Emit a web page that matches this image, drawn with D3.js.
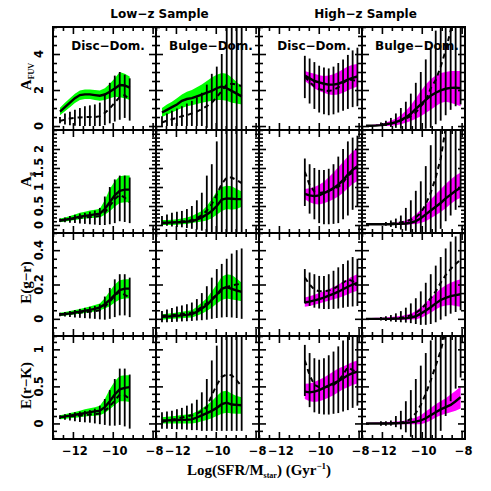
<!DOCTYPE html>
<html>
<head>
<meta charset="utf-8">
<script src="https://cdn.jsdelivr.net/npm/d3@7"></script>
<style>
body { margin: 0; background: #fff; }
text { font-family: "DejaVu Sans", sans-serif; font-weight: bold; fill: #000; }
.serif { font-family: "Liberation Serif", serif; }
</style>
</head>
<body>
<svg id="chart" width="491" height="491"></svg>
<script>
// ---- x grids (log sSFR bin centres) ----
const xLD  = [-12.65,-12.4,-12.15,-11.9,-11.65,-11.4,-11.15,-10.9,-10.65,-10.4,-10.15,-9.9,-9.65,-9.4,-9.15]
const xLB  = [-12.7,-12.45,-12.2,-11.95,-11.7,-11.45,-11.2,-10.95,-10.7,-10.45,-10.2,-9.95,-9.7,-9.45,-9.2,-8.95,-8.7]
const xHD  = [-10.7,-10.46,-10.22,-9.98,-9.74,-9.5,-9.26,-9.02,-8.78,-8.54,-8.3,-8.06]
const xHB  = [-12.8,-12.55,-12.3,-12.05,-11.8,-11.55,-11.3,-11.05,-10.8,-10.55,-10.3,-10.05,-9.8,-9.55,-9.3,-9.05,-8.8,-8.55,-8.3,-8.05]
const xHBd = [-12.05,-11.8,-11.55,-11.3,-11.05,-10.8,-10.55,-10.3,-10.05,-9.8,-9.55,-9.3,-9.05,-8.8,-8.55,-8.3,-8.05]

// ---- A_FUV ----
const afuvLD_med  = [0.8,1.05,1.3,1.55,1.72,1.76,1.76,1.72,1.68,1.75,1.9,2.08,2.28,2.25,2.13]
const afuvLD_lo   = [0.6,0.82,1.05,1.28,1.45,1.5,1.5,1.45,1.4,1.45,1.55,1.62,1.6,1.55,1.45]
const afuvLD_hi   = [1.02,1.3,1.55,1.8,1.97,2.03,2.03,2.0,1.97,2.1,2.35,2.65,3.0,2.9,2.75]
const afuvLD_dash = [0.28,0.36,0.42,0.46,0.48,0.5,0.5,0.5,0.55,0.72,0.98,1.3,1.62,1.72,1.45]
const afuvLD_elo  = [0.15,0.08,0.05,0.02,0,0,0,0,0,0.05,0.15,0.25,0.35,0.45,0.3]
const afuvLD_ehi  = [0.5,0.7,0.8,0.9,1.0,1.1,1.15,1.2,1.3,1.8,2.4,2.8,3.0,2.85,2.65]

const afuvLB_med  = [0.75,0.9,1.05,1.2,1.4,1.5,1.55,1.65,1.75,1.85,1.95,2.1,2.2,2.1,1.95,1.8,1.65]
const afuvLB_lo   = [0.5,0.62,0.75,0.88,1.0,1.1,1.15,1.22,1.3,1.35,1.4,1.45,1.45,1.4,1.3,1.25,1.2]
const afuvLB_hi   = [1.0,1.2,1.35,1.55,1.75,1.9,2.0,2.15,2.3,2.5,2.7,2.85,2.95,2.9,2.7,2.45,2.2]
const afuvLB_dash = [0.2,0.3,0.38,0.45,0.55,0.6,0.7,0.8,0.95,1.1,1.3,1.6,1.95,2.3,2.35,2.3,2.22]
const afuvLB_elo  = [0,0,0,0,0,0,0,0,0,-0.1,-0.2,-0.2,-0.2,-0.2,-0.2,-0.2,-0.2]
const afuvLB_ehi  = [0.55,0.7,0.85,0.98,1.1,1.25,1.4,1.6,1.85,2.3,2.9,3.3,4.0,6,6,6,6]

const afuvHD_med  = [2.8,2.65,2.5,2.42,2.35,2.3,2.3,2.35,2.45,2.58,2.68,2.75]
const afuvHD_lo   = [2.5,2.3,2.1,1.95,1.85,1.75,1.72,1.75,1.85,1.98,2.1,2.2]
const afuvHD_hi   = [3.05,2.98,2.9,2.82,2.78,2.8,2.88,3.0,3.15,3.3,3.4,3.45]
const afuvHD_dash = [2.75,2.45,2.2,2.05,1.98,1.95,2.0,2.15,2.4,2.58,2.55,2.5]
const afuvHD_elo  = [1.55,1.25,0.95,0.75,0.65,0.6,0.65,0.75,0.85,0.95,1.05,1.1]
const afuvHD_ehi  = [3.9,3.75,3.55,3.35,3.25,3.2,3.3,3.5,3.7,3.95,4.2,4.35]

const afuvHB_med  = [0.02,0.02,0.03,0.05,0.1,0.15,0.22,0.33,0.48,0.68,0.95,1.2,1.45,1.68,1.85,1.98,2.07,2.12,2.13,2.1]
const afuvHB_lo   = [0,0,0,0,0,0.02,0.05,0.1,0.18,0.28,0.4,0.55,0.72,0.9,1.1,1.28,1.35,1.3,1.2,1.1]
const afuvHB_hi   = [0.05,0.06,0.08,0.12,0.2,0.3,0.42,0.6,0.85,1.15,1.55,1.95,2.3,2.6,2.8,2.95,3.0,3.05,3.05,3.05]
const afuvHB_dash = [0.05,0.08,0.12,0.2,0.3,0.42,0.55,0.75,1.1,1.4,2.1,2.55,3.3,4.2,5.3,6.5,7.5]
const afuvHB_elo  = [0,0,-0.05,-0.1,-0.15,-0.2,-0.2,-0.2,-0.2,-0.15,-0.1,0.1,0.3,0.6,0.9,1.1,1.2]
const afuvHB_ehi  = [0.2,0.3,0.45,0.7,1.0,1.35,1.8,2.4,3.0,3.7,4.3,5.3,7,7,7,7,7]

// ---- A_g ----
const agLD_med  = [0.12,0.14,0.16,0.19,0.22,0.24,0.26,0.28,0.3,0.42,0.6,0.78,0.9,0.93,0.93]
const agLD_lo   = [0.07,0.09,0.11,0.13,0.15,0.17,0.18,0.19,0.2,0.27,0.36,0.48,0.58,0.6,0.6]
const agLD_hi   = [0.17,0.2,0.24,0.28,0.32,0.35,0.38,0.4,0.43,0.65,0.95,1.15,1.28,1.3,1.3]
const agLD_dash = [0.12,0.13,0.15,0.17,0.19,0.2,0.21,0.22,0.24,0.33,0.5,0.68,0.8,0.72,0.6]
const agLD_elo  = [0.08,0.07,0.06,0.05,0.04,0.03,0.02,0.01,0,0,0.02,0.05,0.1,0.08,0.05]
const agLD_ehi  = [0.17,0.2,0.24,0.27,0.3,0.32,0.35,0.38,0.45,0.75,1.0,1.2,1.3,1.3,1.25]

const agLB_med  = [0.06,0.06,0.07,0.07,0.08,0.09,0.1,0.14,0.2,0.28,0.37,0.5,0.67,0.7,0.69,0.68,0.68]
const agLB_lo   = [0,0,0,0.01,0.02,0.03,0.05,0.07,0.09,0.12,0.18,0.27,0.37,0.42,0.4,0.42,0.48]
const agLB_hi   = [0.13,0.13,0.14,0.15,0.17,0.2,0.24,0.3,0.37,0.5,0.68,0.88,1.0,1.03,1.02,0.95,0.88]
const agLB_dash = [0.04,0.05,0.06,0.08,0.09,0.1,0.13,0.18,0.26,0.38,0.55,0.8,1.08,1.25,1.25,1.18,1.1]
const agLB_elo  = [0,-0.02,-0.04,-0.05,-0.06,-0.08,-0.1,-0.12,-0.15,-0.2,-0.2,-0.2,-0.2,-0.2,-0.2,-0.2,-0.2]
const agLB_ehi  = [0.24,0.28,0.32,0.35,0.37,0.42,0.5,0.65,0.85,1.3,1.6,2.2,3,3,3,3,3]

const agHD_med  = [0.82,0.78,0.76,0.78,0.84,0.9,0.97,1.06,1.18,1.33,1.45,1.55]
const agHD_lo   = [0.68,0.6,0.55,0.54,0.57,0.62,0.68,0.75,0.85,0.97,1.08,1.16]
const agHD_hi   = [0.95,0.97,1.0,1.06,1.14,1.26,1.38,1.52,1.66,1.8,1.93,2.03]
const agHD_dash = [1.4,1.05,0.88,0.84,0.86,0.9,0.95,1.0,1.12,1.3,1.38,1.38]
const agHD_elo  = [0.5,0.3,0.15,0.05,0.02,0.02,0.03,0.05,0.15,0.25,0.4,0.5]
const agHD_ehi  = [1.75,1.6,1.5,1.45,1.45,1.48,1.6,1.8,2.0,2.2,2.3,2.35]

const agHB_med  = [0.02,0.02,0.02,0.02,0.02,0.02,0.03,0.03,0.04,0.06,0.1,0.18,0.28,0.38,0.48,0.58,0.7,0.8,0.9,0.98]
const agHB_lo   = [0,0,0,0,0,0,0,0,0.01,0.02,0.03,0.05,0.1,0.18,0.26,0.34,0.44,0.55,0.65,0.72]
const agHB_hi   = [0.04,0.04,0.04,0.04,0.05,0.05,0.06,0.08,0.12,0.18,0.28,0.4,0.53,0.67,0.81,0.94,1.08,1.2,1.3,1.38]
const agHB_dash = [0.02,0.03,0.04,0.05,0.07,0.1,0.14,0.2,0.32,0.55,0.85,1.25,1.75,2.55,3,3.5,4]
const agHB_elo  = [0,-0.02,-0.05,-0.08,-0.12,-0.15,-0.2,-0.25,-0.3,-0.3,-0.3,-0.3,-0.1,0.1,0.25,0.4,0.5]
const agHB_ehi  = [0.05,0.08,0.12,0.17,0.25,0.45,0.65,0.9,1.15,1.55,2.1,3,3,3,3,3,3]

// ---- E(g-r) ----
const egrLD_med  = [0.025,0.028,0.032,0.037,0.042,0.047,0.052,0.058,0.066,0.085,0.11,0.14,0.168,0.176,0.176]
const egrLD_lo   = [0.017,0.02,0.023,0.027,0.03,0.034,0.038,0.043,0.05,0.06,0.074,0.095,0.112,0.118,0.12]
const egrLD_hi   = [0.035,0.04,0.045,0.052,0.058,0.065,0.072,0.08,0.09,0.12,0.16,0.2,0.225,0.23,0.23]
const egrLD_dash = [0.025,0.027,0.03,0.033,0.036,0.039,0.042,0.045,0.05,0.07,0.1,0.135,0.16,0.14,0.125]
const egrLD_elo  = [0.015,0.013,0.01,0.008,0.006,0.004,0.002,0,-0.003,-0.005,0,0.01,0.02,0.02,0.01]
const egrLD_ehi  = [0.035,0.04,0.046,0.052,0.058,0.064,0.07,0.075,0.085,0.13,0.18,0.23,0.26,0.26,0.24]

const egrLB_med  = [0.012,0.013,0.015,0.017,0.02,0.023,0.027,0.04,0.06,0.08,0.11,0.14,0.175,0.185,0.175,0.165,0.157]
const egrLB_lo   = [-0.005,-0.003,0,0.002,0.004,0.006,0.008,0.018,0.03,0.045,0.065,0.09,0.11,0.118,0.112,0.108,0.102]
const egrLB_hi   = [0.027,0.03,0.033,0.037,0.041,0.045,0.05,0.07,0.095,0.12,0.16,0.2,0.245,0.26,0.255,0.235,0.21]
const egrLB_dash = [0.018,0.02,0.022,0.025,0.028,0.031,0.035,0.05,0.07,0.09,0.115,0.14,0.165,0.185,0.195,0.2,0.205]
const egrLB_elo  = [-0.02,-0.02,-0.018,-0.017,-0.015,-0.014,-0.012,-0.01,-0.008,-0.005,0,0.005,0.008,0.01,0.008,0.005,0]
const egrLB_ehi  = [0.045,0.055,0.063,0.072,0.078,0.085,0.095,0.115,0.15,0.19,0.24,0.29,0.32,0.35,0.38,0.4,0.41]

const egrHD_med  = [0.095,0.1,0.107,0.115,0.124,0.135,0.146,0.158,0.172,0.187,0.2,0.21]
const egrHD_lo   = [0.07,0.075,0.082,0.09,0.098,0.106,0.114,0.122,0.132,0.143,0.155,0.163]
const egrHD_hi   = [0.125,0.132,0.14,0.15,0.16,0.172,0.186,0.2,0.215,0.232,0.248,0.26]
const egrHD_dash = [0.24,0.2,0.17,0.16,0.16,0.165,0.175,0.19,0.21,0.23,0.22,0.2]
const egrHD_elo  = [0.09,0.075,0.065,0.06,0.058,0.057,0.058,0.06,0.065,0.07,0.072,0.075]
const egrHD_ehi  = [0.29,0.27,0.26,0.25,0.25,0.26,0.28,0.3,0.32,0.34,0.36,0.35]

const egrHB_med  = [0,0,0,0,0,0,0.001,0.002,0.004,0.007,0.015,0.03,0.048,0.068,0.09,0.11,0.122,0.132,0.138,0.143]
const egrHB_lo   = [-0.003,-0.003,-0.004,-0.004,-0.005,-0.005,-0.005,-0.005,-0.005,-0.004,-0.002,0.005,0.02,0.035,0.055,0.07,0.078,0.08,0.075,0.07]
const egrHB_hi   = [0.005,0.005,0.006,0.007,0.008,0.01,0.013,0.017,0.022,0.03,0.045,0.068,0.095,0.12,0.15,0.175,0.195,0.21,0.222,0.23]
const egrHB_dash = [0,0,0.001,0.003,0.006,0.012,0.02,0.035,0.055,0.085,0.12,0.16,0.21,0.255,0.29,0.32,0.345]
const egrHB_elo  = [-0.01,-0.012,-0.015,-0.018,-0.02,-0.022,-0.025,-0.03,-0.035,-0.035,-0.03,-0.02,-0.005,0.015,0.03,0.04,0.05]
const egrHB_ehi  = [0.01,0.015,0.022,0.032,0.045,0.065,0.09,0.12,0.16,0.21,0.26,0.31,0.36,0.41,0.45,0.48,0.52]

// ---- E(r-K) ----
const erkLD_med  = [0.085,0.095,0.105,0.117,0.128,0.14,0.152,0.163,0.173,0.22,0.3,0.39,0.46,0.48,0.49]
const erkLD_lo   = [0.055,0.063,0.07,0.078,0.085,0.092,0.099,0.105,0.11,0.14,0.19,0.25,0.3,0.3,0.29]
const erkLD_hi   = [0.11,0.125,0.14,0.155,0.172,0.19,0.205,0.22,0.24,0.33,0.46,0.57,0.64,0.65,0.65]
const erkLD_dash = [0.085,0.09,0.096,0.102,0.108,0.114,0.12,0.126,0.133,0.17,0.23,0.31,0.39,0.38,0.33]
const erkLD_elo  = [0.06,0.05,0.04,0.03,0.02,0.015,0.01,0,-0.01,-0.02,-0.03,-0.03,-0.02,-0.04,-0.07]
const erkLD_ehi  = [0.11,0.125,0.14,0.15,0.16,0.17,0.18,0.2,0.24,0.33,0.45,0.6,0.74,0.74,0.66]

const erkLB_med  = [0.04,0.042,0.044,0.046,0.048,0.05,0.054,0.08,0.11,0.14,0.17,0.21,0.26,0.28,0.255,0.25,0.245]
const erkLB_lo   = [0,0,0,0,0,0,0,0.01,0.03,0.045,0.07,0.1,0.13,0.145,0.135,0.13,0.13]
const erkLB_hi   = [0.085,0.09,0.097,0.105,0.113,0.122,0.13,0.16,0.2,0.25,0.3,0.37,0.43,0.44,0.4,0.37,0.355]
const erkLB_dash = [0.02,0.035,0.05,0.065,0.08,0.095,0.11,0.13,0.17,0.22,0.38,0.52,0.63,0.66,0.65,0.58,0.5]
const erkLB_elo  = [-0.07,-0.07,-0.075,-0.08,-0.08,-0.085,-0.09,-0.09,-0.1,-0.1,-0.1,-0.1,-0.1,-0.1,-0.1,-0.1,-0.1]
const erkLB_ehi  = [0.15,0.16,0.17,0.19,0.21,0.24,0.27,0.32,0.42,0.6,0.85,1.05,1.3,1.3,1.3,1.3,1.3]

const erkHD_med  = [0.43,0.42,0.43,0.45,0.48,0.51,0.54,0.57,0.61,0.65,0.68,0.7]
const erkHD_lo   = [0.33,0.3,0.29,0.3,0.32,0.35,0.38,0.42,0.46,0.49,0.52,0.54]
const erkHD_hi   = [0.535,0.54,0.56,0.59,0.62,0.66,0.7,0.74,0.77,0.8,0.83,0.85]
const erkHD_dash = [0.85,0.65,0.52,0.49,0.49,0.5,0.52,0.57,0.66,0.76,0.72,0.69]
const erkHD_elo  = [0.37,0.22,0.15,0.13,0.12,0.12,0.13,0.14,0.16,0.18,0.21,0.24]
const erkHD_ehi  = [1.06,0.95,0.88,0.86,0.88,0.92,0.97,1.04,1.12,1.2,1.25,1.25]

const erkHB_med  = [0,0,0,0,0,0,0.002,0.005,0.01,0.015,0.025,0.04,0.07,0.11,0.15,0.19,0.22,0.25,0.3,0.355]
const erkHB_lo   = [-0.005,-0.005,-0.005,-0.006,-0.007,-0.008,-0.01,-0.01,-0.01,-0.01,-0.01,-0.01,0.01,0.04,0.08,0.11,0.13,0.15,0.17,0.2]
const erkHB_hi   = [0.01,0.01,0.012,0.014,0.016,0.02,0.025,0.03,0.04,0.055,0.08,0.11,0.16,0.21,0.26,0.3,0.34,0.39,0.44,0.5]
const erkHB_dash = [0,0,0.002,0.005,0.01,0.025,0.06,0.14,0.25,0.4,0.58,0.78,0.98,1.25,1.6,1.9,2.2]
const erkHB_elo  = [-0.03,-0.03,-0.03,-0.05,-0.08,-0.12,-0.18,-0.25,-0.25,-0.25,-0.25,-0.2,-0.1,0.1,0.3,0.47,0.62]
const erkHB_ehi  = [0.03,0.03,0.04,0.1,0.17,0.3,0.45,0.6,0.78,0.95,1.12,1.5,1.5,1.5,1.5,1.5,1.5]

// ---- axes / labels ----
const xTicks = [-12, -10, -8]
const afuvTicks = [0, 2, 4]
const agTicks = [0, 0.5, 1, 1.5, 2]
const egrTicks = [0, 0.2, 0.4]
const erkTicks = [0, 0.5, 1]
const sampleTitles = ['Low\u2212z Sample', 'High\u2212z Sample']
const morphTitles = ['Disc\u2212Dom.', 'Bulge\u2212Dom.', 'Disc\u2212Dom.', 'Bulge\u2212Dom.']

const green = '#00ff00', magenta = '#ff00ff'
const L = 53, T = 27, PW = 103, PH = 103
const xDomain = [-13, -7.83]

const rowsCfg = [
    {domain: [-0.22, 5.5], major: afuvTicks, minor: 0.5, name: ['A', 'FUV']},
    {domain: [-0.21, 2.5], major: agTicks, minor: 0.1, name: ['A', 'g']},
    {domain: [-0.1, 0.5], major: egrTicks, minor: 0.05, name: ['E(g\u2212r)']},
    {domain: [-0.21, 1.18], major: erkTicks, minor: 0.1, name: ['E(r\u2212K)']}
]
const fills = [green, green, magenta, magenta]

function P(x, med, lo, hi, xd, dash, elo, ehi) {
    return {x, med, lo, hi, xd, dash, elo, ehi}
}
const panels = [
    [P(xLD, afuvLD_med, afuvLD_lo, afuvLD_hi, xLD, afuvLD_dash, afuvLD_elo, afuvLD_ehi),
     P(xLB, afuvLB_med, afuvLB_lo, afuvLB_hi, xLB, afuvLB_dash, afuvLB_elo, afuvLB_ehi),
     P(xHD, afuvHD_med, afuvHD_lo, afuvHD_hi, xHD, afuvHD_dash, afuvHD_elo, afuvHD_ehi),
     P(xHB, afuvHB_med, afuvHB_lo, afuvHB_hi, xHBd, afuvHB_dash, afuvHB_elo, afuvHB_ehi)],
    [P(xLD, agLD_med, agLD_lo, agLD_hi, xLD, agLD_dash, agLD_elo, agLD_ehi),
     P(xLB, agLB_med, agLB_lo, agLB_hi, xLB, agLB_dash, agLB_elo, agLB_ehi),
     P(xHD, agHD_med, agHD_lo, agHD_hi, xHD, agHD_dash, agHD_elo, agHD_ehi),
     P(xHB, agHB_med, agHB_lo, agHB_hi, xHBd, agHB_dash, agHB_elo, agHB_ehi)],
    [P(xLD, egrLD_med, egrLD_lo, egrLD_hi, xLD, egrLD_dash, egrLD_elo, egrLD_ehi),
     P(xLB, egrLB_med, egrLB_lo, egrLB_hi, xLB, egrLB_dash, egrLB_elo, egrLB_ehi),
     P(xHD, egrHD_med, egrHD_lo, egrHD_hi, xHD, egrHD_dash, egrHD_elo, egrHD_ehi),
     P(xHB, egrHB_med, egrHB_lo, egrHB_hi, xHBd, egrHB_dash, egrHB_elo, egrHB_ehi)],
    [P(xLD, erkLD_med, erkLD_lo, erkLD_hi, xLD, erkLD_dash, erkLD_elo, erkLD_ehi),
     P(xLB, erkLB_med, erkLB_lo, erkLB_hi, xLB, erkLB_dash, erkLB_elo, erkLB_ehi),
     P(xHD, erkHD_med, erkHD_lo, erkHD_hi, xHD, erkHD_dash, erkHD_elo, erkHD_ehi),
     P(xHB, erkHB_med, erkHB_lo, erkHB_hi, xHBd, erkHB_dash, erkHB_elo, erkHB_ehi)]
]

const fmt = v => String(v).replace('-', '\u2212')

function minorTicks(dom, step, major) {
    const k0 = Math.ceil(dom[0] / step - 1e-9), k1 = Math.floor(dom[1] / step + 1e-9)
    return d3.range(k0, k1 + 1).map(k => +(k * step).toFixed(4))
        .filter(v => !major.some(m => Math.abs(m - v) < 1e-6))
}

const svg = d3.select('#chart')
const defs = svg.append('defs')

function tickAxis(g, axis, vals, size) {
    g.call(axis.tickValues(vals).tickSize(-size).tickFormat(''))
    g.select('.domain').remove()
    g.selectAll('line').attr('stroke', '#000').attr('stroke-width', 1.6)
}

rowsCfg.forEach((rc, r) => {
    panels[r].forEach((d, c) => {
        const x0 = L + c * PW, y0 = T + r * PH
        const xs = d3.scaleLinear().domain(xDomain).range([x0, x0 + PW])
        const ys = d3.scaleLinear().domain(rc.domain).range([y0 + PH, y0])
        const id = `clip${r}${c}`
        defs.append('clipPath').attr('id', id).append('rect')
            .attr('x', x0).attr('y', y0).attr('width', PW).attr('height', PH)
        const g = svg.append('g').attr('clip-path', `url(#${id})`)

        // shaded band
        g.append('path')
            .datum(d3.range(d.x.length))
            .attr('d', d3.area().x(i => xs(d.x[i])).y0(i => ys(d.lo[i])).y1(i => ys(d.hi[i])))
            .attr('fill', fills[c])

        // error bars
        g.selectAll('line.err')
            .data(d3.range(d.xd.length))
            .join('line')
            .attr('class', 'err')
            .attr('x1', i => xs(d.xd[i])).attr('x2', i => xs(d.xd[i]))
            .attr('y1', i => ys(d.elo[i])).attr('y2', i => ys(d.ehi[i]))
            .attr('stroke', '#000').attr('stroke-width', 1.8)

        // dashed median
        g.append('path')
            .datum(d3.range(d.xd.length))
            .attr('d', d3.line().x(i => xs(d.xd[i])).y(i => ys(d.dash[i])))
            .attr('fill', 'none').attr('stroke', '#000')
            .attr('stroke-width', 2).attr('stroke-dasharray', '5,4')

        // solid median
        g.append('path')
            .datum(d3.range(d.x.length))
            .attr('d', d3.line().x(i => xs(d.x[i])).y(i => ys(d.med[i])))
            .attr('fill', 'none').attr('stroke', '#000').attr('stroke-width', 2.4)

        // ticks on all four sides, pointing inward
        const xMinor = minorTicks(xDomain, 0.5, xTicks)
        const yMinor = minorTicks(rc.domain, rc.minor, rc.major)
        const ax = svg.append('g')
        tickAxis(ax.append('g').attr('transform', `translate(0,${y0 + PH})`), d3.axisBottom(xs), xTicks, 7)
        tickAxis(ax.append('g').attr('transform', `translate(0,${y0 + PH})`), d3.axisBottom(xs), xMinor, 4)
        tickAxis(ax.append('g').attr('transform', `translate(0,${y0})`), d3.axisTop(xs), xTicks, 7)
        tickAxis(ax.append('g').attr('transform', `translate(0,${y0})`), d3.axisTop(xs), xMinor, 4)
        tickAxis(ax.append('g').attr('transform', `translate(${x0},0)`), d3.axisLeft(ys), rc.major, 7)
        tickAxis(ax.append('g').attr('transform', `translate(${x0},0)`), d3.axisLeft(ys), yMinor, 4)
        tickAxis(ax.append('g').attr('transform', `translate(${x0 + PW},0)`), d3.axisRight(ys), rc.major, 7)
        tickAxis(ax.append('g').attr('transform', `translate(${x0 + PW},0)`), d3.axisRight(ys), yMinor, 4)

        svg.append('rect')
            .attr('x', x0).attr('y', y0).attr('width', PW).attr('height', PH)
            .attr('fill', 'none').attr('stroke', '#000').attr('stroke-width', 2)

        // x tick labels on bottom row
        if (r === 3) {
            svg.selectAll(null).data(xTicks).join('text')
                .attr('x', v => xs(v) + 2).attr('y', y0 + PH + 16)
                .attr('text-anchor', 'middle').attr('font-size', 11.5)
                .text(fmt)
        }
        // y tick labels on left column
        if (c === 0) {
            svg.selectAll(null).data(rc.major).join('text')
                .attr('transform', v => `translate(${x0 - 10},${ys(v)}) rotate(-90)`)
                .attr('text-anchor', 'middle').attr('font-size', 11.5)
                .text(fmt)
            const t = svg.append('text').attr('class', 'serif')
                .attr('transform', `translate(${x0 - 22},${y0 + PH / 2 - 2}) rotate(-90)`)
                .attr('text-anchor', 'middle').attr('font-size', 15)
            t.append('tspan').text(rc.name[0])
            if (rc.name[1]) t.append('tspan').attr('font-size', 8).attr('dy', 3).text(rc.name[1])
        }
        // morphology labels in top row
        if (r === 0) {
            svg.append('text')
                .attr('x', x0 + 55).attr('y', y0 + 23)
                .attr('text-anchor', 'middle').attr('font-size', 12)
                .text(morphTitles[c])
        }
    })
})

// sample titles
svg.selectAll(null).data(sampleTitles).join('text')
    .attr('x', (d, i) => L + PW + i * 2 * PW + 3.5).attr('y', 18)
    .attr('text-anchor', 'middle').attr('font-size', 12)
    .text(d => d)

// x axis title
const xt = svg.append('text').attr('class', 'serif')
    .attr('x', 259).attr('y', 475).attr('text-anchor', 'middle').attr('font-size', 15)
xt.append('tspan').text('Log(SFR/M')
xt.append('tspan').attr('font-size', 8).attr('dy', 3).text('star')
xt.append('tspan').attr('dy', -3).text(') (Gyr')
xt.append('tspan').attr('font-size', 9).attr('dy', -6).text('\u22121')
xt.append('tspan').attr('dy', 6).text(')')
</script>
</body>
</html>
